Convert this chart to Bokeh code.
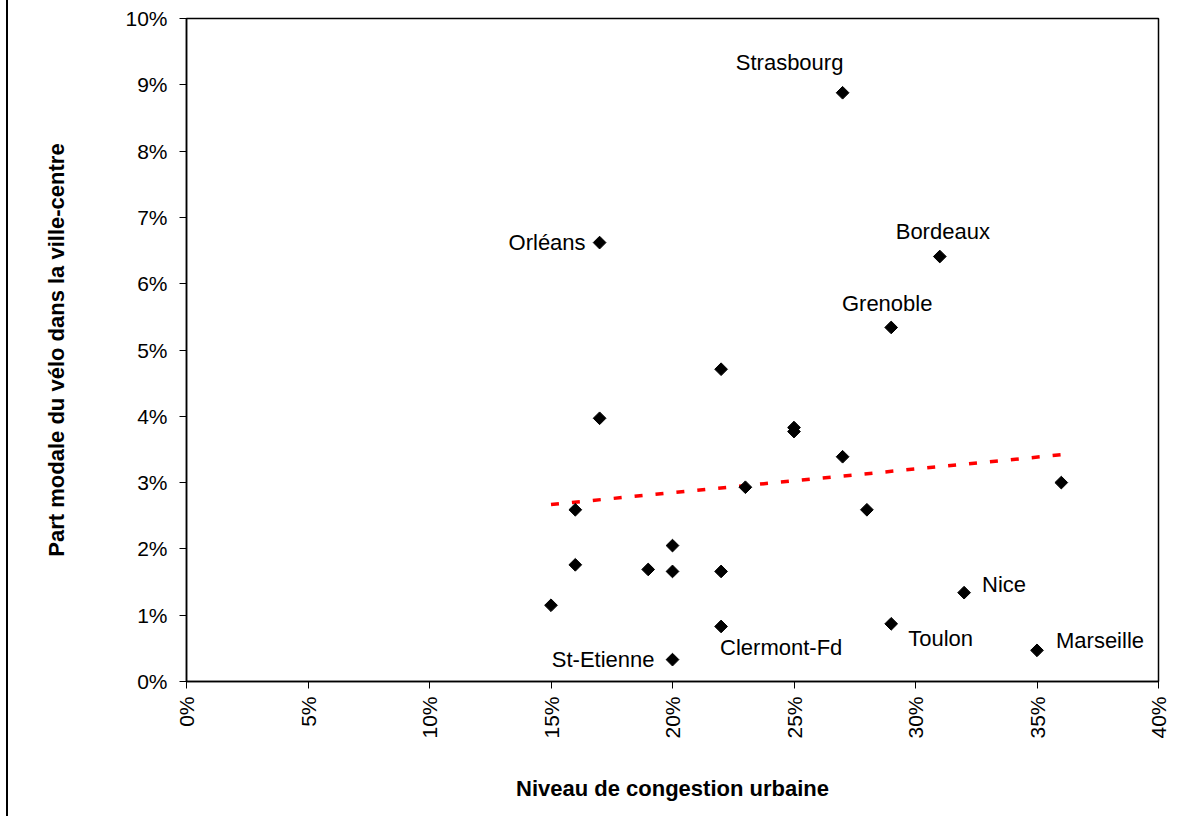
from bokeh.plotting import figure
from bokeh.models import (ColumnDataSource, FixedTicker, PrintfTickFormatter,
                          LabelSet, Range1d)
from bokeh.core.properties import value
from bokeh.embed import file_html
from bokeh.resources import INLINE

# ---- data (percent units) ----
congestion = [27, 17, 31, 29, 22, 17, 25, 25, 27, 23, 16, 28, 36, 20, 16, 19, 20, 22, 15, 32, 22, 29, 20, 35]
velo_share = [8.88, 6.62, 6.41, 5.34, 4.71, 3.97, 3.83, 3.77, 3.39, 2.93, 2.59, 2.59, 3.00, 2.05, 1.76, 1.69, 1.66, 1.66, 1.15, 1.34, 0.83, 0.87, 0.33, 0.47]
city = ["Strasbourg", "Orléans", "Bordeaux", "Grenoble", "", "", "", "", "", "", "", "", "", "", "", "", "", "", "", "Nice", "Clermont-Fd", "Toulon", "St-Etienne", "Marseille"]

trend_x = [15, 36]
trend_y = [2.67, 3.42]

x_ticks = [0, 5, 10, 15, 20, 25, 30, 35, 40]
y_ticks = [0, 1, 2, 3, 4, 5, 6, 7, 8, 9, 10]

# label placement (screen pixel offsets, styling only)
label_layout = {
    "Strasbourg": (-53, 30, "center"),
    "Orléans": (-14, 0, "right"),
    "Bordeaux": (3, 25, "center"),
    "Grenoble": (-4, 24, "center"),
    "Nice": (18, 8, "left"),
    "Toulon": (17, -15, "left"),
    "Marseille": (19, 10, "left"),
    "Clermont-Fd": (-1, -21, "left"),
    "St-Etienne": (-18, 0, "right"),
}

FONT = "Liberation Sans"

p = figure(width=1173, height=816, output_backend="svg", toolbar_location=None,
           x_range=Range1d(0, 40), y_range=Range1d(0, 10),
           min_border_left=178, min_border_right=23, min_border_top=18, min_border_bottom=135)
p.styles = {"border-left": "2px solid black", "margin-left": "6px"}

p.xgrid.visible = False
p.ygrid.visible = False
p.outline_line_color = "black"
p.outline_line_width = 1.5
p.background_fill_color = "white"
p.border_fill_color = "white"

for ax in (p.xaxis[0], p.yaxis[0]):
    ax.axis_line_color = "black"
    ax.axis_line_width = 1.5
    ax.major_tick_line_color = "black"
    ax.major_tick_in = 0
    ax.major_tick_out = 7
    ax.minor_tick_line_color = None
    ax.major_label_text_font = FONT
    ax.major_label_text_font_size = "21px"
    ax.major_label_text_color = "black"
    ax.axis_label_text_font = FONT
    ax.axis_label_text_font_size = "22px"
    ax.axis_label_text_font_style = "bold"
    ax.axis_label_text_color = "black"
    ax.formatter = PrintfTickFormatter(format="%d%%")

p.xaxis[0].ticker = FixedTicker(ticks=x_ticks)
p.yaxis[0].ticker = FixedTicker(ticks=y_ticks)
p.xaxis[0].major_label_orientation = 1.5708
p.xaxis[0].axis_label = "Niveau de congestion urbaine"
p.yaxis[0].axis_label = "Part modale du vélo dans la ville-centre"
p.xaxis[0].major_label_standoff = 8
p.yaxis[0].major_label_standoff = 12
p.xaxis[0].axis_label_standoff = 34
p.yaxis[0].axis_label_standoff = 53

# trend line
p.line(trend_x, trend_y, line_color="red", line_width=3.5, line_dash="8 13")

# points (rotated squares = Excel-style diamonds)
src = ColumnDataSource(dict(x=congestion, y=velo_share))
p.scatter("x", "y", source=src, marker="square", angle=0.7854, size=9,
          fill_color="black", line_color="black")

# labels
lx, ly, lt, dx, dy, al = [], [], [], [], [], []
for xv, yv, name in zip(congestion, velo_share, city):
    if name:
        ox, oy, a = label_layout[name]
        lx.append(xv); ly.append(yv); lt.append(name)
        dx.append(ox); dy.append(oy); al.append(a)
lsrc = ColumnDataSource(dict(x=lx, y=ly, text=lt, dx=dx, dy=dy, align=al))
labels = LabelSet(x="x", y="y", text="text", x_offset="dx", y_offset="dy",
                  text_align="align", text_baseline="middle", source=lsrc,
                  text_font=value(FONT), text_font_size="22px", text_color="black")
p.add_layout(labels)

open("out.html", "w").write(file_html(p, INLINE))
